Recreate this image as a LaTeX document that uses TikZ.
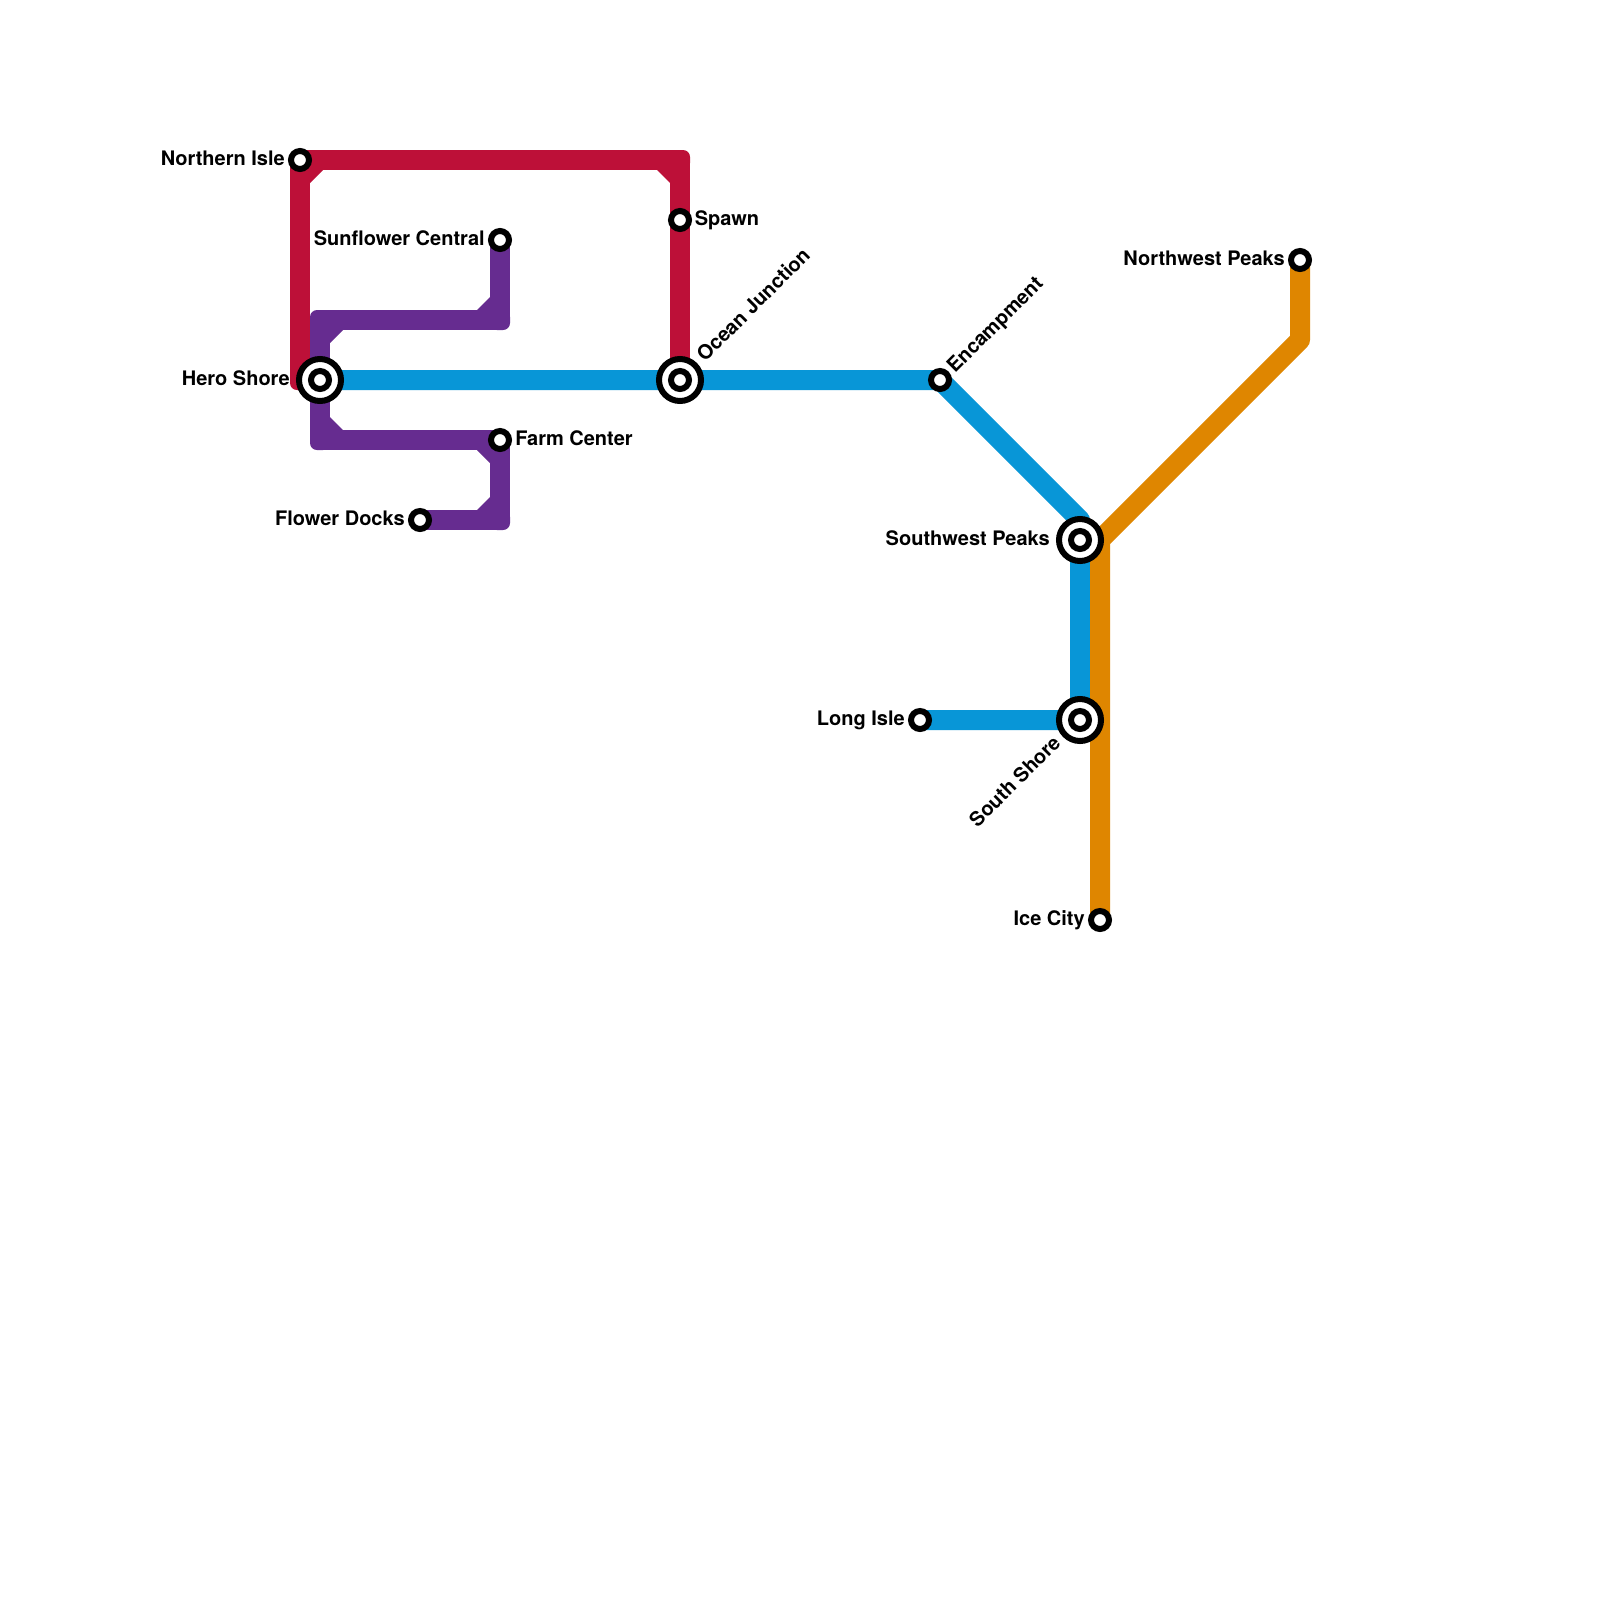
\documentclass[tikz,border=0pt]{standalone}
\usepackage{fontspec}
\setmainfont{TeX Gyre Heros}
\pgfdeclarelayer{lines}
\pgfsetlayers{lines,main}
\definecolor{redline}{HTML}{BD1038}
\definecolor{purpleline}{HTML}{662C90}
\definecolor{blueline}{HTML}{0896D7}
\definecolor{orangeline}{HTML}{DF8600}
\newcommand{\bendfill}[5]{%
  \fill[#1,rounded corners=5.25pt] (#2-10,#3-10) rectangle (#2+10,#3+10);
  \fill[#1] (#2+10*#4,#3+10*#5) -- +(13*#4,0) -- +(0,13*#5) -- cycle;}
\tikzset{
  x=0.75pt,y=-0.75pt,
  metro/.style={line width=15pt,line join=round},
  stopmark/.style={circle,draw=black,fill=white,line width=4.5pt,minimum size=13.5pt,inner sep=0pt},
  hubmark/.style={circle,draw=black,fill=white,line width=4.5pt,minimum size=31.5pt,inner sep=0pt},
  stoplabel/.style={font=\fontsize{15pt}{18pt}\selectfont\bfseries,text=black,inner sep=0pt},
}
\begin{document}
\begin{tikzpicture}
\useasboundingbox (0,0) rectangle (1600,1600);
% stations
\node[stopmark] (nisle) at (300,160) {};
\node[stopmark] (spawn) at (680,220) {};
\node[stopmark] (sunf) at (500,240) {};
\node[stopmark] (nwp) at (1300,260) {};
\node[hubmark] (hero) at (320,380) {};
\node[stopmark] (heroin) at (320,380) {};
\node[hubmark] (ocean) at (680,380) {};
\node[stopmark] (oceanin) at (680,380) {};
\node[stopmark] (camp) at (940,380) {};
\node[stopmark] (farm) at (500,440) {};
\node[stopmark] (docks) at (420,520) {};
\node[hubmark] (swp) at (1080,540) {};
\node[stopmark] (swpin) at (1080,540) {};
\node[stopmark] (lisle) at (920,720) {};
\node[hubmark] (sshore) at (1080,720) {};
\node[stopmark] (sshorein) at (1080,720) {};
\node[stopmark] (icity) at (1100,920) {};
% bends
\coordinate (r1) at (680,160);
\coordinate (r2) at (300,380);
\coordinate (p1) at (500,320);
\coordinate (p2) at (320,320);
\coordinate (p3) at (320,440);
\coordinate (p4) at (500,520);
\coordinate (b1) at (1080,520);
\coordinate (o1) at (1300,340);
\coordinate (o2) at (1100,540);
% lines
\begin{pgfonlayer}{lines}
\fill[white] (0,0) rectangle (1600,1600);
\draw[metro,redline] (ocean.center) -- (r1) -- (nisle.center) -- (r2) -- (hero.center);
\bendfill{redline}{300}{160}{1}{1}
\bendfill{redline}{680}{160}{-1}{1}
\bendfill{redline}{300}{380}{1}{-1}
\draw[metro,purpleline] (sunf.center) -- (p1) -- (p2) -- (hero.center) -- (p3) -- (farm.center) -- (p4) -- (docks.center);
\bendfill{purpleline}{500}{320}{-1}{-1}
\bendfill{purpleline}{320}{320}{1}{1}
\bendfill{purpleline}{320}{440}{1}{-1}
\bendfill{purpleline}{500}{440}{-1}{1}
\bendfill{purpleline}{500}{520}{-1}{-1}
\draw[metro,blueline] (hero.center) -- (ocean.center) -- (camp.center) -- (b1) -- (swp.center) -- (sshore.center) -- (lisle.center);
\draw[metro,orangeline] (nwp.center) -- (o1) -- (o2) -- (icity.center);
\end{pgfonlayer}
% labels
\node[stoplabel,anchor=base east] (lnisle) at (285,165) {Northern Isle};
\node[stoplabel,anchor=base west] (lspawn) at (694.5,225) {Spawn};
\node[stoplabel,anchor=base east] (lsunf) at (485,245) {Sunflower Central};
\node[stoplabel,anchor=base east] (lnwp) at (1285,265) {Northwest Peaks};
\node[stoplabel,anchor=base east] (lhero) at (290,385) {Hero Shore};
\node[stoplabel,anchor=base west,rotate=45] (locean) at (705,363) {Ocean Junction};
\node[stoplabel,anchor=base west,rotate=45] (lcamp) at (955,374) {Encampment};
\node[stoplabel,anchor=base west] (lfarm) at (515,445) {Farm Center};
\node[stoplabel,anchor=base east] (ldocks) at (405,525) {Flower Docks};
\node[stoplabel,anchor=base east] (lswp) at (1050,545) {Southwest Peaks};
\node[stoplabel,anchor=base east] (llisle) at (905,725) {Long Isle};
\node[stoplabel,anchor=base east,rotate=45] (lsshore) at (1062,744) {South Shore};
\node[stoplabel,anchor=base east] (licity) at (1085,925) {Ice City};
\end{tikzpicture}
\end{document}
